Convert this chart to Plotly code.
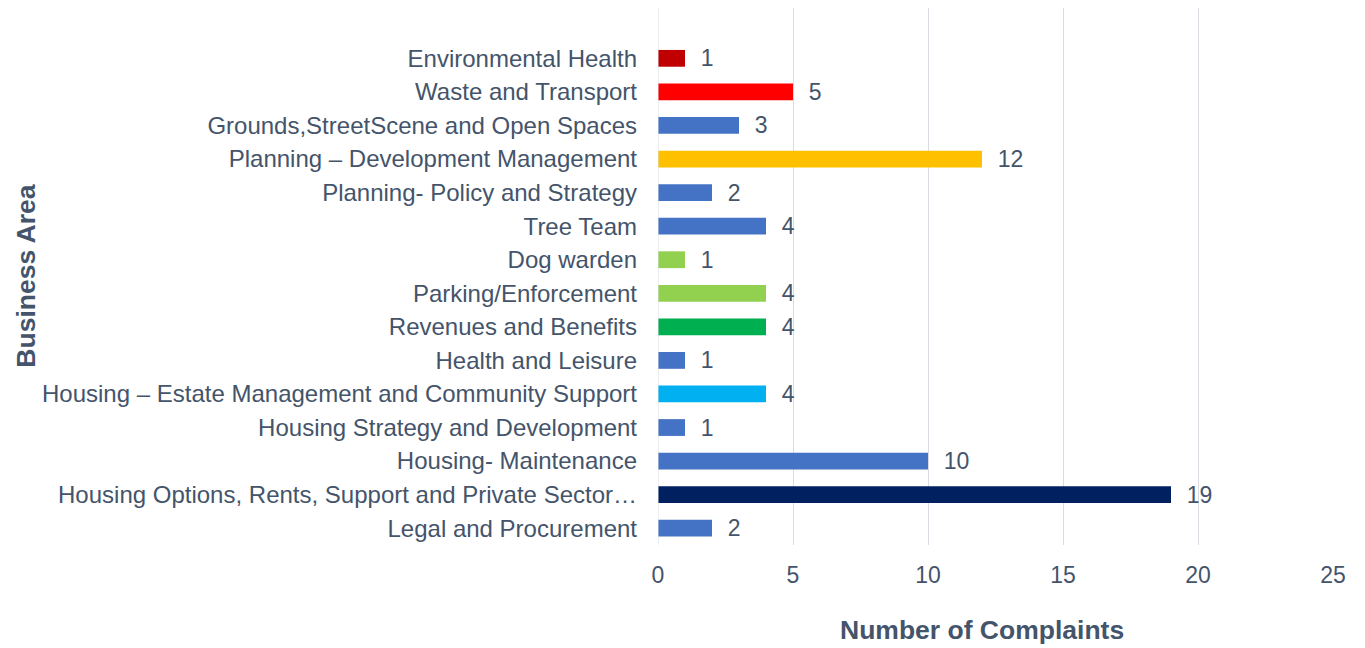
import plotly.graph_objects as go

categories = [
    "Environmental Health",
    "Waste and Transport",
    "Grounds,StreetScene and Open Spaces",
    "Planning – Development Management",
    "Planning- Policy and Strategy",
    "Tree Team",
    "Dog warden",
    "Parking/Enforcement",
    "Revenues and Benefits",
    "Health and Leisure",
    "Housing – Estate Management and Community Support",
    "Housing Strategy and Development",
    "Housing- Maintenance",
    "Housing Options, Rents, Support and Private Sector…",
    "Legal and Procurement",
]
complaints = [1, 5, 3, 12, 2, 4, 1, 4, 4, 1, 4, 1, 10, 19, 2]
bar_colors = [
    "#C00000", "#FF0000", "#4472C4", "#FFC000", "#4472C4", "#4472C4",
    "#92D050", "#92D050", "#00B050", "#4472C4", "#00B0F0", "#4472C4",
    "#4472C4", "#002060", "#4472C4",
]
x_ticks = [0, 5, 10, 15, 20, 25]

TXT = "#44546A"
FONT = "Liberation Sans, Arial, sans-serif"
FS = 23

n = len(categories)
ypos = [n - 1 - i for i in range(n)]

fig = go.Figure()
fig.add_trace(go.Bar(
    x=complaints,
    y=ypos,
    orientation="h",
    width=0.5,
    marker=dict(color=bar_colors, line=dict(width=0)),
    text=["\u00a0\u00a0" + str(v) for v in complaints],
    textposition="outside",
    constraintext="none",
    textfont=dict(color=TXT, size=FS, family=FONT),
    cliponaxis=False,
    hoverinfo="x+y",
))

fig.update_layout(
    width=1357, height=640,
    margin=dict(l=650, r=32, t=0, b=103),
    paper_bgcolor="white", plot_bgcolor="white",
    showlegend=False,
    font=dict(family=FONT, color=TXT, size=FS),
    xaxis=dict(
        range=[0, 25], tickvals=x_ticks, ticktext=[str(t) for t in x_ticks],
        showgrid=True, gridcolor="#D9DDE3", gridwidth=1,
        zeroline=False, showline=False, ticks="",
        tickfont=dict(size=FS, color=TXT), ticklabelstandoff=14,
    ),
    yaxis=dict(
        range=[-0.5, 15.5], tickvals=ypos, ticktext=categories,
        showgrid=False, zeroline=False, showline=False, ticks="",
        tickfont=dict(size=24, color=TXT), ticklabelstandoff=20,
    ),
    shapes=[dict(type="line", xref="x", yref="paper", x0=0, x1=0, y0=0, y1=1,
                 line=dict(color="#D9DDE3", width=1))],
    annotations=[
        dict(text="<b>Number of Complaints</b>", xref="paper", yref="paper",
             x=0.48, y=-0.158, xanchor="center", yanchor="middle", showarrow=False,
             font=dict(size=26.5, color=TXT, family=FONT)),
        dict(text="<b>Business Area</b>", xref="paper", yref="paper",
             x=-0.9375, y=0.5, xanchor="center", yanchor="middle", showarrow=False,
             textangle=-90, font=dict(size=26.5, color=TXT, family=FONT)),
    ],
)

fig.write_html("out.html")
